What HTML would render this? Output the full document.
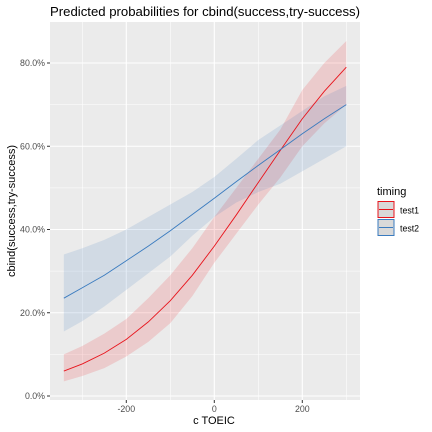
<!DOCTYPE html>
<html><head><meta charset="utf-8"><style>
body{margin:0;background:#fff;}
svg{display:block;font-family:"Liberation Sans",Arial,sans-serif;}
</style></head><body>
<svg id="chart" width="432" height="432" xmlns="http://www.w3.org/2000/svg">
<text x="50" y="16" font-size="12.6" textLength="310" lengthAdjust="spacingAndGlyphs" fill="#000">Predicted probabilities for cbind(success,try-success)</text>
<rect x="50" y="22" width="310" height="378" fill="#ebebeb"/>
<g id="grid"></g>
<g id="bands"></g>
<g id="lines"></g>
<g id="axes"></g>
<text x="214" y="424" font-size="11" text-anchor="middle" fill="#000">c TOEIC</text>
<text transform="translate(15,211) rotate(-90)" font-size="11" text-anchor="middle" fill="#000">cbind(success,try-success)</text>
<g>
<text x="377" y="195" font-size="11" fill="#000">timing</text>
<g>
<rect x="378" y="201.5" width="16" height="16" fill="#d9d9d9" stroke="#e8141c" stroke-width="1"/>
<line x1="379" y1="209.5" x2="393" y2="209.5" stroke="#e8141c" stroke-width="1"/>
<text x="400" y="213.5" font-size="8.8" fill="#000">test1</text>
</g>
<g>
<rect x="378" y="219.5" width="16" height="16" fill="#d9d9d9" stroke="#3a7bbf" stroke-width="1"/>
<line x1="379" y1="227.5" x2="393" y2="227.5" stroke="#3a7bbf" stroke-width="1"/>
<text x="400" y="231.5" font-size="8.8" fill="#000">test2</text>
</g>
</g>
</svg>
<script>
const xValues = [-342,-300,-250,-200,-150,-100,-50,0,50,100,150,200,250,300];
const test1Fit = [0.06,0.077,0.103,0.136,0.178,0.229,0.29,0.36,0.435,0.513,0.59,0.666,0.732,0.79];
const test1Lo = [0.035,0.048,0.067,0.095,0.13,0.175,0.24,0.32,0.39,0.46,0.525,0.6,0.655,0.70];
const test1Hi = [0.10,0.12,0.15,0.185,0.235,0.29,0.355,0.43,0.50,0.57,0.64,0.735,0.80,0.853];
const test2Fit = [0.235,0.26,0.29,0.325,0.36,0.397,0.436,0.475,0.515,0.554,0.592,0.63,0.666,0.70];
const test2Lo = [0.155,0.18,0.215,0.255,0.295,0.335,0.385,0.43,0.465,0.49,0.51,0.54,0.57,0.60];
const test2Hi = [0.34,0.355,0.375,0.40,0.43,0.46,0.49,0.526,0.57,0.615,0.65,0.685,0.72,0.745];
const xTicks = [-200,0,200];
const xMinor = [-300,-100,100,300];
const yTicks = [0,0.2,0.4,0.6,0.8];
const yMinor = [0.1,0.3,0.5,0.7];
const yTickLabels = ["0.0%","20.0%","40.0%","60.0%","80.0%"];

const NS="http://www.w3.org/2000/svg";
function sx(v){return 214.3+v*0.44;}
function sy(p){return 396-p*416.25;}
function mk(tag,attrs,parent){const e=document.createElementNS(NS,tag);for(const k in attrs)e.setAttribute(k,attrs[k]);document.getElementById(parent).appendChild(e);return e;}

xMinor.forEach(v=>{const e=mk('line',{x1:sx(v),x2:sx(v),y1:22,y2:400,stroke:'#fff','stroke-width':0.55},'grid');

});
yMinor.forEach(v=>{const e=mk('line',{x1:50,x2:360,y1:sy(v),y2:sy(v),stroke:'#fff','stroke-width':0.55},'grid');

});
xTicks.forEach(v=>{const e=mk('line',{x1:sx(v),x2:sx(v),y1:22,y2:400,stroke:'#fff','stroke-width':1.1},'grid');


const t=mk('line',{x1:sx(v),x2:sx(v),y1:400,y2:403,stroke:'#333','stroke-width':1},'axes');


const l=mk('text',{x:sx(v),y:412,'font-size':8.8,'text-anchor':'middle',fill:'#4d4d4d'},'axes');
l.textContent=v;

});
yTicks.forEach((v,i)=>{const e=mk('line',{x1:50,x2:360,y1:sy(v),y2:sy(v),stroke:'#fff','stroke-width':1.1},'grid');


const t=mk('line',{x1:47,x2:50,y1:sy(v),y2:sy(v),stroke:'#333','stroke-width':1},'axes');


const l=mk('text',{x:45,y:sy(v)+3,'font-size':8.8,'text-anchor':'end',fill:'#4d4d4d'},'axes');
l.textContent=yTickLabels[i];

});

function band(lo,hi,color,name){
 let d='M'+xValues.map((x,i)=>sx(x)+','+sy(hi[i])).join('L');
 d+='L'+xValues.slice().reverse().map((x,j)=>{const i=xValues.length-1-j;return sx(x)+','+sy(lo[i]);}).join('L')+'Z';
 const e=mk('path',{d:d,fill:color,'fill-opacity':0.15,stroke:'none'},'bands');
 
 
}
function line(fit,color,name){
 const d='M'+xValues.map((x,i)=>sx(x)+','+sy(fit[i])).join('L');
 const e=mk('path',{d:d,fill:'none',stroke:color,'stroke-width':0.9},'lines');
 
 
}
band(test1Lo,test1Hi,'#e8141c','test1-ci-band');
band(test2Lo,test2Hi,'#3a7bbf','test2-ci-band');
line(test1Fit,'#e8141c','test1-line');
line(test2Fit,'#3a7bbf','test2-line');
</script>
</body></html>
